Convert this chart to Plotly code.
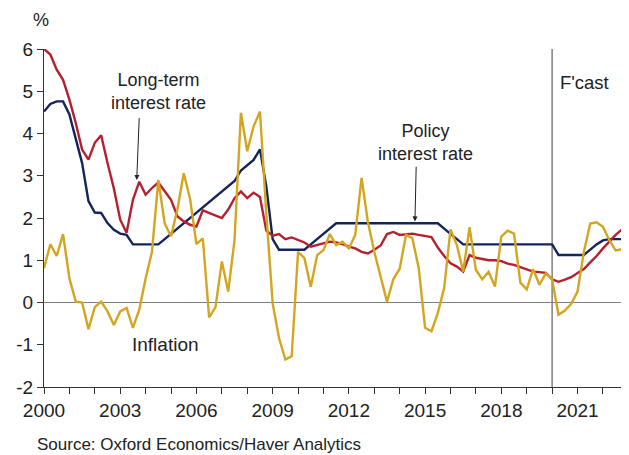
import plotly.graph_objects as go

# Quarterly data, 2000Q1 .. 2022Q4
start_year = 2000
n_quarters = 92

policy_rate = [
    4.52, 4.70, 4.76, 4.76, 4.45, 3.87, 3.30, 2.40, 2.13, 2.12, 1.88, 1.72,
    1.63, 1.60, 1.375, 1.375, 1.375, 1.375, 1.375, 1.50, 1.625, 1.75, 1.875, 2.00,
    2.125, 2.25, 2.375, 2.50, 2.625, 2.75, 2.875, 3.125, 3.25, 3.375, 3.625, 2.75,
    1.50, 1.25, 1.25, 1.25, 1.25, 1.25, 1.375, 1.50, 1.625, 1.75, 1.875, 1.875,
    1.875, 1.875, 1.875, 1.875, 1.875, 1.875, 1.875, 1.875, 1.875, 1.875, 1.875, 1.875,
    1.875, 1.875, 1.875, 1.75, 1.625, 1.50, 1.375, 1.375, 1.375, 1.375, 1.375, 1.375,
    1.375, 1.375, 1.375, 1.375, 1.375, 1.375, 1.375, 1.375, 1.375, 1.125, 1.125, 1.125,
    1.125, 1.125, 1.25, 1.375, 1.47, 1.50, 1.50, 1.50,
]

long_term_rate = [
    6.00, 5.87, 5.51, 5.27, 4.80, 4.25, 3.62, 3.38, 3.78, 3.96, 3.30, 2.70,
    1.96, 1.65, 2.43, 2.86, 2.55, 2.71, 2.84, 2.63, 2.43, 2.04, 1.92, 1.84,
    1.80, 2.18, 2.12, 2.06, 2.00, 2.20, 2.47, 2.63, 2.47, 2.60, 2.50, 1.70,
    1.58, 1.62, 1.50, 1.54, 1.48, 1.42, 1.32, 1.36, 1.40, 1.44, 1.42, 1.38,
    1.32, 1.28, 1.20, 1.16, 1.25, 1.35, 1.62, 1.67, 1.60, 1.62, 1.63, 1.60,
    1.58, 1.55, 1.30, 1.10, 0.93, 0.85, 0.73, 1.12, 1.06, 1.03, 1.00, 1.00,
    0.98, 0.92, 0.89, 0.84, 0.79, 0.73, 0.72, 0.70, 0.55, 0.49, 0.54, 0.60,
    0.70, 0.79, 0.95, 1.10, 1.28, 1.45, 1.60, 1.73,
]

inflation = [
    0.81, 1.38, 1.10, 1.62, 0.57, 0.02, 0.00, -0.63, -0.11, 0.02, -0.21, -0.53,
    -0.21, -0.13, -0.60, -0.17, 0.57, 1.20, 2.90, 1.87, 1.57, 2.20, 3.06, 2.45,
    1.38, 1.52, -0.35, -0.11, 0.97, 0.26, 1.48, 4.49, 3.58, 4.17, 4.52, 2.10,
    -0.02, -0.84, -1.35, -1.27, 1.20, 1.05, 0.37, 1.12, 1.24, 1.62, 1.36, 1.44,
    1.28, 1.60, 2.95, 1.90, 1.20, 0.60, 0.02, 0.55, 0.80, 1.60, 1.52, 0.81,
    -0.60, -0.68, -0.25, 0.34, 1.73, 1.36, 0.73, 1.78, 0.77, 0.55, 0.73, 0.38,
    1.56, 1.70, 1.63, 0.47, 0.31, 0.79, 0.42, 0.69, 0.55, -0.29, -0.19, -0.03,
    0.26, 1.20, 1.87, 1.90, 1.79, 1.48, 1.23, 1.26,
]

y_tick_values = [-2, -1, 0, 1, 2, 3, 4, 5, 6]
y_tick_labels = ["-2", "-1", "0", "1", "2", "3", "4", "5", "6"]

dates = [start_year + q / 4 for q in range(n_quarters)]
forecast_start = 2020

red = "#B5202E"
navy = "#14245C"
gold = "#D4A520"
font_family = "Arial, Liberation Sans, sans-serif"

fig = go.Figure()
fig.add_trace(go.Scatter(x=dates, y=policy_rate, mode="lines", name="Policy interest rate",
                         line=dict(color=navy, width=2.4)))
fig.add_trace(go.Scatter(x=dates, y=long_term_rate, mode="lines", name="Long-term interest rate",
                         line=dict(color=red, width=2.4)))
fig.add_trace(go.Scatter(x=dates, y=inflation, mode="lines", name="Inflation",
                         line=dict(color=gold, width=2.4)))

# forecast divider
fig.add_shape(type="line", xref="x", yref="y", x0=forecast_start, x1=forecast_start,
              y0=-2, y1=6, line=dict(color="#808080", width=1.5), layer="below")

# page body has an 8px margin: the figure is sized to fit the 629x455 window
fig.update_layout(
    width=621, height=447,
    margin=dict(l=36, r=7, t=41, b=68, autoexpand=False),
    paper_bgcolor="white", plot_bgcolor="white",
    showlegend=False,
    font=dict(family=font_family, size=18, color="#222222"),
    xaxis=dict(
        range=[2000, 2022.75], showgrid=False, zeroline=False,
        showline=True, linecolor="#333333", linewidth=1,
        tickmode="linear", tick0=2000, dtick=3,
        ticks="outside", ticklen=6, tickcolor="#333333",
        minor=dict(dtick=1, tick0=2000, ticks="outside", ticklen=6, tickcolor="#333333"),
        tickfont=dict(size=19, color="#222222"),
    ),
    yaxis=dict(
        range=[-2, 6], showgrid=False,
        zeroline=True, zerolinecolor="#808080", zerolinewidth=1.2,
        showline=True, linecolor="#333333", linewidth=1,
        tickmode="array", tickvals=y_tick_values, ticktext=y_tick_labels,
        ticks="outside", ticklen=6, tickcolor="#333333",
        tickfont=dict(size=19, color="#222222"),
    ),
)

annotations = [
    dict(text="%", xref="paper", yref="paper", x=-0.005, y=1.05, xanchor="center",
         yanchor="bottom", showarrow=False, font=dict(size=18)),
    dict(text="F'cast", xref="x", yref="y", x=2020.25, y=5.2, xanchor="left",
         yanchor="middle", showarrow=False, font=dict(size=18.5)),
    dict(text="Long-term<br>interest rate", xref="x", yref="y", x=2004.5, y=5.0,
         xanchor="center", yanchor="middle", showarrow=False, font=dict(size=18)),
    dict(text="Policy<br>interest rate", xref="x", yref="y", x=2015.0, y=3.78,
         xanchor="center", yanchor="middle", showarrow=False, font=dict(size=18)),
    dict(text="Inflation", xref="x", yref="y", x=2004.8, y=-1.0,
         xanchor="center", yanchor="middle", showarrow=False, font=dict(size=19)),
    dict(text="Source: Oxford Economics/Haver Analytics", xref="paper", yref="paper",
         x=-0.016, y=-0.17, xanchor="left", yanchor="middle", showarrow=False,
         font=dict(size=17)),
    # arrows
    dict(x=2003.65, y=2.9, ax=2003.75, ay=4.4, xref="x", yref="y", axref="x", ayref="y",
         text="", showarrow=True, arrowhead=2, arrowsize=1, arrowwidth=1, arrowcolor="#222222"),
    dict(x=2014.6, y=1.92, ax=2014.65, ay=3.25, xref="x", yref="y", axref="x", ayref="y",
         text="", showarrow=True, arrowhead=2, arrowsize=1, arrowwidth=1, arrowcolor="#222222"),
]
fig.update_layout(annotations=annotations)

fig.write_html("out.html")
